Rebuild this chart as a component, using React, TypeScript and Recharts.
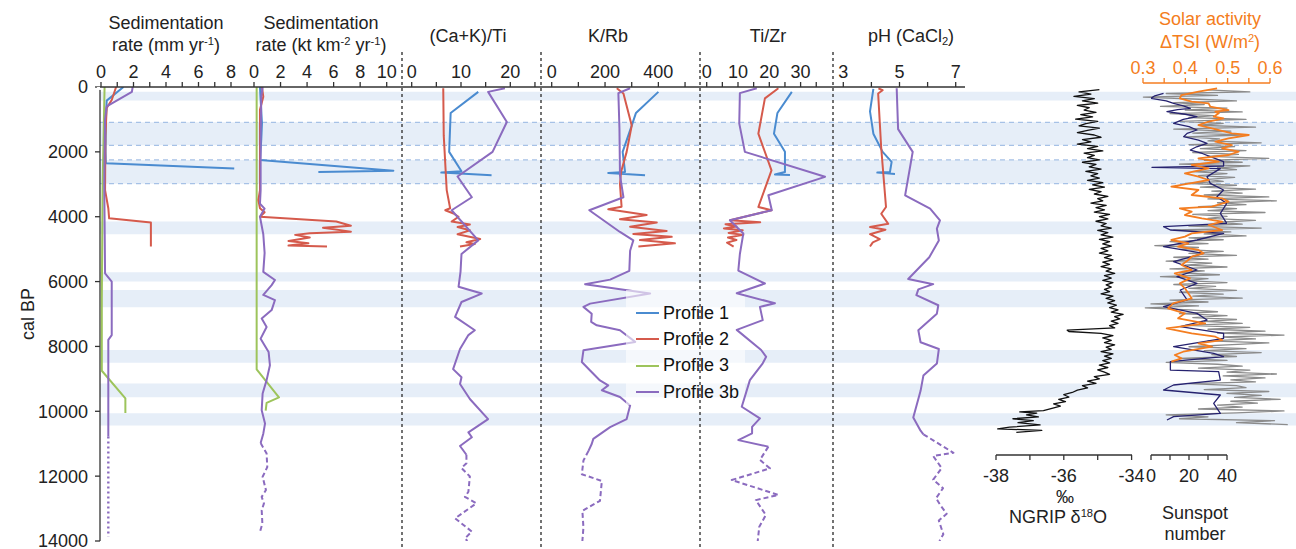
import React from 'react'
import { ComposedChart, Line, XAxis, YAxis, ReferenceArea, ReferenceLine, Legend } from 'recharts'

const FONT = '"Liberation Sans", Arial, Helvetica, sans-serif'
const INK = '#222222'
const AXIS = '#333333'
const BLUE = '#4a8bd0'
const RED = '#d55a4c'
const GREEN = '#9dc45c'
const PURPLE = '#8b6bbf'
const ORANGE = '#f47d20'
const NAVY = '#26226f'
const GREY = '#8c8c8c'
const BAND = '#e6eef8'
const BAND_LINE = '#a6c1e6'

// page geometry (px)
const W = 1296
const H = 549
const TOP = 87 // y of 0 cal BP
const BOTTOM = 541 // y of 14000 cal BP
const SHORT_BOTTOM = 455 // bottom of the NGRIP / solar strips
const AGE_MAX = 14000
const PPY = (BOTTOM - TOP) / AGE_MAX
const AXIS_H = 30

type Pt = [number, number] // [cal BP, value]

const ageTicks = [0, 2000, 4000, 6000, 8000, 10000, 12000, 14000]
const bands: Pt[] = [
  [145, 420], [1090, 1800], [2250, 2980], [4150, 4540], [5710, 6000],
  [6260, 6790], [8110, 8500], [9140, 9570], [10060, 10440],
]
const bandEdges = [1090, 1800, 2250, 2980]

// Sedimentation rate (mm yr-1)
const sedMm1: Pt[] = [[0, 1.38], [420, 0.35], [1000, 0.3], [2000, 0.28], [2350, 0.3], [2510, 8.2]]
const sedMm2: Pt[] = [[0, 0.93], [400, 0.66], [650, 0.35], [1500, 0.27], [3180, 0.25], [3740, 0.45], [4050, 0.5], [4180, 3.07], [4920, 3.07]]
const sedMm3: Pt[] = [[0, 0.22], [1000, 0.18], [3000, 0.1], [6500, 0.05], [8750, 0.05], [9600, 1.5], [10050, 1.5]]
const sedMm3b: Pt[] = [[0, 1.95], [150, 1.9], [600, 0.35], [1000, 0.25], [3000, 0.2], [5750, 0.25], [6000, 0.66], [7650, 0.66], [7800, 0.45], [10780, 0.45]]
const sedMm3bOld: Pt[] = [[10780, 0.45], [13870, 0.45]]

// Sedimentation rate (kt km-2 yr-1)
const sedKt1: Pt[] = [[0, 0.45], [400, 0.5], [1110, 0.6], [1600, 0.55], [2250, 0.45], [2580, 10.5], [2620, 4.85]]
const sedKt2: Pt[] = [[0, 0.6], [300, 0.7], [700, 0.45], [3180, 0.45], [3490, 0.33], [3740, 0.45], [3860, 0.8], [4000, 0.45], [4150, 6.2], [4280, 7.3], [4340, 5.2], [4460, 7.3], [4510, 4.2], [4560, 3.1], [4640, 4.2], [4750, 2.6], [4820, 4.1], [4890, 2.6], [4920, 5.5]]
const sedKt3: Pt[] = [[0, 0.2], [4000, 0.2], [8710, 0.2], [9570, 1.88], [9740, 0.95], [9980, 0.88]]
const sedKt3b: Pt[] = [[0, 0.65], [300, 0.55], [1500, 0.5], [3180, 0.5], [3600, 0.45], [3750, 0.8], [4000, 0.45], [4540, 0.7], [5120, 0.8], [5700, 0.7], [5950, 1.58], [6110, 1.33], [6410, 0.7], [6570, 1.58], [6880, 1.33], [7140, 0.58], [7400, 0.95], [7760, 0.5], [8170, 1.1], [8580, 1.2], [9040, 0.95], [9450, 0.65], [9970, 0.58], [10380, 0.83], [10690, 0.7], [10980, 0.5]]
const sedKt3bOld: Pt[] = [[10980, 0.5], [11300, 0.95], [11720, 1.0], [12020, 0.65], [12430, 0.9], [12640, 0.58], [12840, 0.75], [13050, 0.58], [13460, 0.63], [13720, 0.45]]

// (Ca+K)/Ti
const caTi1: Pt[] = [[150, 13.5], [800, 7.9], [2000, 7.6], [2600, 10.1], [2640, 6.0], [2720, 16.2]]
const caTi2: Pt[] = [[40, 6.4], [1500, 6.5], [3180, 7.1], [3740, 7.8], [3800, 6.8], [3900, 8.5], [4000, 9.5], [4150, 8.1], [4240, 11.8], [4320, 9.3], [4420, 11.8], [4540, 9.3], [4690, 13.9], [4790, 11.1], [4840, 12.8], [4920, 9.8]]
const caTi3b: Pt[] = [[40, 18.9], [150, 15.5], [1080, 19.3], [2000, 16.4], [2760, 9.3], [3400, 12.2], [3800, 8.1], [4730, 13.5], [5150, 10.1], [5700, 9.9], [6160, 9.5], [6370, 14.2], [6630, 10.1], [7090, 8.8], [7500, 12.8], [7650, 11.5], [8080, 9.8], [8700, 8.4], [8950, 10.1], [9160, 9.8], [9620, 11.8], [10240, 15.5], [10650, 11.5], [10800, 12.2], [11070, 9.8], [11340, 11.1]]
const caTi3bOld: Pt[] = [[11340, 11.1], [11600, 11.1], [11750, 10.1], [12010, 11.8], [12480, 11.5], [12640, 10.8], [12840, 13.1], [13300, 8.8], [13710, 12.2], [13920, 10.8], [14000, 11.3]]

// K/Rb
const kRb1: Pt[] = [[150, 400], [800, 316], [1190, 300], [2000, 266], [2620, 275], [2650, 212], [2720, 350]]
const kRb2: Pt[] = [[40, 244], [200, 269], [1190, 300], [2000, 281], [2620, 260], [3000, 256], [3690, 262], [3770, 212], [3950, 356], [4080, 256], [4180, 394], [4310, 294], [4440, 431], [4530, 306], [4620, 450], [4720, 331], [4820, 462], [4920, 325]]
const kRb3b: Pt[] = [[40, 294], [190, 250], [1280, 254], [2720, 256], [3400, 269], [3800, 141], [4470, 256], [4730, 306], [5050, 294], [5670, 291], [5940, 219], [6080, 125], [6370, 369], [6680, 144], [6780, 119], [6990, 150], [7240, 148], [7350, 169], [7500, 256], [7860, 313], [8120, 119], [8480, 113], [8740, 144], [9050, 181], [9200, 212], [9350, 188], [9560, 256], [9820, 294], [10240, 281], [10490, 219], [10850, 156], [11010, 150], [11220, 138]]
const kRb3bOld: Pt[] = [[11220, 138], [11520, 119], [11940, 113], [12150, 188], [12760, 181], [13070, 115], [13580, 119], [14000, 115]]

// Ti/Zr
const tiZr1: Pt[] = [[150, 27.2], [800, 22.6], [1440, 21.5], [2000, 25.0], [2620, 25.0], [2700, 21.8], [2710, 26.6]]
const tiZr2: Pt[] = [[40, 22.9], [350, 18.6], [1440, 16.5], [2570, 20.7], [3700, 16.5], [3800, 20.7], [4110, 7.5], [4170, 17.1], [4230, 6.0], [4300, 9.5], [4360, 5.5], [4420, 11.5], [4500, 7.0], [4560, 11.7], [4640, 6.8], [4720, 9.5], [4800, 6.5], [4920, 8.6]]
const tiZr3b: Pt[] = [[40, 16.0], [190, 10.6], [1120, 10.4], [2000, 12.2], [2770, 37.8], [3340, 19.7], [3800, 20.8], [4110, 7.4], [4520, 11.7], [5150, 10.6], [5660, 10.1], [6060, 18.6], [6360, 9.6], [6670, 21.8], [6780, 17.0], [7190, 17.9], [7490, 9.6], [8110, 17.4], [8320, 19.0], [8520, 17.9], [9040, 13.8], [9860, 11.2], [10220, 17.0], [10480, 14.5], [10680, 14.5], [10890, 10.1], [11090, 19.7]]
const tiZr3bOld: Pt[] = [[11090, 19.7], [11500, 17.0], [11760, 20.2], [12120, 8.0], [12580, 22.9], [12740, 15.7], [13200, 18.9], [13560, 16.8], [14000, 16.3]]

// pH (CaCl2)
const ph1: Pt[] = [[60, 4.07], [750, 3.95], [1440, 4.07], [2000, 4.4], [2310, 4.72], [2620, 4.66], [2640, 4.21], [2680, 4.84]]
const ph2: Pt[] = [[40, 4.25], [100, 4.4], [200, 4.24], [1890, 4.35], [3700, 4.52], [3910, 4.35], [4220, 4.6], [4320, 3.95], [4400, 4.5], [4540, 3.95], [4690, 4.3], [4790, 4.05], [4920, 3.95]]
const ph3b: Pt[] = [[40, 4.9], [1300, 4.95], [2000, 5.47], [3340, 5.2], [3750, 6.09], [4110, 6.44], [4370, 6.33], [4730, 6.4], [5250, 6.06], [5920, 5.31], [6080, 6.2], [6240, 5.67], [6420, 5.6], [6730, 6.38], [6990, 6.33], [7500, 5.67], [7870, 5.75], [8080, 6.4], [8530, 6.33], [8900, 5.85], [9370, 5.75], [10190, 5.49], [10600, 5.75], [10710, 5.85]]
const ph3bOld: Pt[] = [[10710, 5.85], [11280, 6.92], [11380, 6.2], [11750, 6.5], [12110, 6.2], [12370, 6.55], [12680, 6.3], [12890, 6.45], [13160, 6.68], [13370, 6.4], [13790, 6.56], [14000, 6.42]]

// NGRIP d18O (permil)
const ngrip: Pt[] = [
  [80, -34.95], [150, -35.55], [220, -35.2], [290, -35.7], [360, -35.1], [430, -35.45], [500, -35.0], [570, -35.6], [640, -35.25], [710, -35.4],
  [780, -35.05], [850, -35.5], [920, -35.15], [990, -35.65], [1060, -35.0], [1130, -35.35], [1200, -35.55], [1270, -34.95], [1340, -35.3], [1410, -35.6],
  [1480, -35.1], [1550, -34.9], [1620, -35.45], [1690, -35.2], [1760, -35.6], [1830, -35.0], [1900, -35.3], [1970, -34.85], [2040, -35.4], [2110, -35.1],
  [2180, -35.3], [2250, -34.95], [2320, -35.45], [2390, -35.05], [2460, -35.25], [2530, -34.9], [2600, -35.35], [2670, -35.0], [2740, -35.2], [2810, -34.95],
  [2880, -35.3], [2950, -34.85], [3020, -35.15], [3090, -34.8], [3160, -35.25], [3230, -34.9], [3300, -35.1], [3370, -34.7], [3440, -35.0], [3510, -34.85],
  [3580, -35.2], [3650, -34.75], [3720, -35.05], [3790, -34.8], [3860, -35.1], [3930, -34.65], [4000, -34.95], [4070, -34.7], [4140, -35.05], [4210, -34.75],
  [4280, -34.9], [4350, -34.6], [4420, -35.0], [4490, -34.7], [4560, -34.9], [4630, -34.55], [4700, -34.95], [4770, -34.65], [4840, -34.85], [4910, -34.6],
  [4980, -34.9], [5050, -34.7], [5120, -34.95], [5190, -34.6], [5260, -34.8], [5330, -34.55], [5400, -34.85], [5470, -34.65], [5540, -34.9], [5610, -34.6],
  [5680, -34.75], [5750, -34.5], [5820, -34.8], [5890, -34.6], [5960, -34.85], [6030, -34.55], [6100, -34.75], [6170, -34.6], [6240, -34.8], [6310, -34.65],
  [6380, -34.9], [6450, -34.55], [6520, -34.75], [6590, -34.5], [6660, -34.7], [6730, -34.45], [6800, -34.65], [6870, -34.4], [6940, -34.6], [7010, -34.25],
  [7080, -34.5], [7150, -34.35], [7220, -34.6], [7290, -34.4], [7360, -34.65], [7430, -34.5], [7500, -35.9], [7540, -35.85], [7600, -34.9], [7670, -34.55],
  [7740, -34.85], [7810, -34.6], [7880, -34.8], [7950, -34.5], [8020, -34.75], [8090, -34.6], [8160, -34.9], [8230, -34.55], [8300, -34.8], [8370, -34.6],
  [8440, -34.85], [8510, -34.65], [8580, -34.95], [8650, -34.7], [8720, -35.0], [8790, -34.8], [8860, -34.65], [8930, -35.1], [9000, -34.95], [9070, -35.3],
  [9140, -35.05], [9210, -35.45], [9280, -35.3], [9350, -35.6], [9420, -35.75], [9490, -36.0], [9560, -35.85], [9630, -36.15], [9700, -35.95], [9770, -36.3],
  [9840, -36.1], [9910, -36.35], [9980, -36.6], [10020, -37.3], [10060, -36.8], [10110, -37.1], [10170, -36.75], [10230, -37.5], [10290, -36.9], [10350, -37.35],
  [10420, -36.7], [10490, -37.6], [10540, -37.95], [10590, -36.65], [10650, -37.4],
]

// Sunspot number, raw (grey) and smoothed (navy)
const sunspotRaw: Pt[] = [
  [90, 30], [150, 52], [200, 8], [260, 35], [310, -4], [370, 22], [430, 45], [480, 12], [540, 28], [600, 5],
  [650, 40], [710, 18], [770, 48], [820, 10], [880, 33], [940, 20], [1000, 50], [1060, 15], [1120, 38], [1180, 25],
  [1240, 55], [1300, 12], [1360, 42], [1420, 22], [1480, 48], [1540, 18], [1600, 36], [1660, 30], [1720, 58], [1780, 20],
  [1840, 44], [1900, 26], [1960, 50], [2020, 22], [2080, 46], [2140, 30], [2200, 62], [2260, 28], [2320, 48], [2380, 15],
  [2430, 52], [2490, 35], [2550, 45], [2610, 22], [2670, 40], [2730, 25], [2790, 44], [2850, 30], [2910, 38], [2970, 18],
  [3030, 45], [3090, 26], [3150, 55], [3210, 32], [3270, 48], [3330, 28], [3390, 62], [3450, 30], [3510, 66], [3570, 35],
  [3630, 50], [3690, 25], [3750, 45], [3810, 30], [3870, 60], [3930, 22], [3990, 40], [4050, 30], [4110, 55], [4170, 35],
  [4230, 48], [4290, 20], [4350, 58], [4410, 12], [4470, 42], [4530, 28], [4590, 50], [4650, 20], [4710, 38], [4770, 10],
  [4830, 30], [4890, 2], [4950, 25], [5010, 15], [5070, 38], [5130, 20], [5190, 45], [5250, 12], [5310, 30], [5370, 8],
  [5430, 32], [5490, 18], [5550, 40], [5610, 10], [5670, 28], [5730, 15], [5790, 36], [5850, 5], [5910, 30], [5970, 18],
  [6030, 40], [6090, 12], [6150, 34], [6210, 20], [6270, 45], [6330, 15], [6390, 38], [6450, 22], [6510, 48], [6570, 10],
  [6630, 30], [6690, 0], [6750, 25], [6810, -3], [6870, 20], [6930, 35], [6990, 15], [7050, 40], [7110, 22], [7170, 45],
  [7230, 28], [7290, 48], [7350, 18], [7410, 52], [7470, 30], [7530, 60], [7590, 35], [7650, 70], [7710, 38], [7770, 55],
  [7830, 30], [7890, 62], [7950, 40], [8010, 20], [8070, 50], [8130, 28], [8190, 58], [8250, 32], [8310, 45], [8370, 15],
  [8430, 40], [8490, 8], [8550, 35], [8610, 48], [8670, 25], [8730, 52], [8790, 40], [8850, 66], [8910, 38], [8970, 60],
  [9030, 42], [9090, 55], [9150, 20], [9210, 45], [9270, 50], [9330, 28], [9390, 62], [9450, 40], [9510, 58], [9570, 44],
  [9630, 68], [9690, 42], [9750, 56], [9810, 35], [9870, 48], [9930, 25], [9990, 70], [10050, 45], [10110, 8], [10170, 30],
  [10230, 15], [10290, 65], [10350, 45], [10410, 72],
]
const sunspotSmooth: Pt[] = [
  [195, 6.6], [270, 2], [350, 0], [430, 8], [504, 11.9], [580, 17], [658, 20.7], [700, 14], [761, 8.4], [840, 18], [915, 24.2],
  [1000, 17], [1120, 11.9], [1220, 20], [1326, 24.2], [1430, 19], [1532, 17.2], [1640, 25], [1737, 29.5], [1843, 24], [1943, 20.7],
  [2050, 27], [2148, 31.2], [2303, 38.2], [2436, 38.2], [2477, 0.5], [2518, 36.5], [2640, 33], [2765, 29.5], [2971, 31.2], [3176, 38.2],
  [3382, 34.7], [3588, 39.9], [3896, 36.5], [4205, 39.9], [4307, 6.6], [4410, 10.2], [4513, 38.2], [4718, 24.2], [4924, 6.6], [5129, 27.7],
  [5386, 11.9], [5643, 24.2], [5849, 13.7], [6055, 24.2], [6260, 15.4], [6568, 19.0], [6774, 6.6], [6980, 24.2], [7186, 29.5], [7391, 15.4],
  [7597, 38.2], [7751, 38.2], [8008, 11.9], [8214, 33.0], [8317, 38.2], [8471, 10.2], [8728, 10.2], [8779, 35.6], [9036, 36.5], [9190, 11.9],
  [9344, 6.6], [9498, 36.5], [9755, 33.0], [10064, 36.5], [10167, 11.9], [10270, 8.4],
]

// Solar activity, delta TSI (W/m2)
const tsi: Pt[] = [
  [41, 0.475], [144, 0.431], [247, 0.391], [350, 0.387], [452, 0.415], [504, 0.455], [607, 0.459], [710, 0.502], [761, 0.471], [812, 0.479],
  [915, 0.467], [966, 0.49], [1069, 0.455], [1172, 0.431], [1275, 0.463], [1429, 0.51], [1480, 0.55], [1583, 0.502], [1686, 0.471], [1789, 0.51],
  [1892, 0.487], [1994, 0.526], [2097, 0.502], [2200, 0.431], [2303, 0.479], [2405, 0.415], [2508, 0.455], [2663, 0.399], [2765, 0.431], [2868, 0.455],
  [2971, 0.411], [3073, 0.367], [3176, 0.431], [3330, 0.415], [3433, 0.487], [3536, 0.502], [3690, 0.463], [3742, 0.387], [3844, 0.415], [3947, 0.399],
  [4050, 0.439], [4153, 0.487], [4256, 0.455], [4410, 0.487], [4513, 0.415], [4615, 0.399], [4718, 0.367], [4821, 0.407], [4924, 0.383], [5026, 0.431],
  [5129, 0.443], [5232, 0.415], [5335, 0.407], [5489, 0.391], [5643, 0.415], [5746, 0.375], [5900, 0.411], [6055, 0.387], [6209, 0.399], [6363, 0.407],
  [6517, 0.415], [6671, 0.371], [6825, 0.359], [6980, 0.399], [7134, 0.383], [7288, 0.447], [7442, 0.356], [7597, 0.415], [7700, 0.471], [7803, 0.487],
  [7905, 0.431], [8008, 0.463], [8163, 0.395], [8265, 0.375], [8368, 0.391], [8471, 0.367],
]

const legendItems = [
  { label: 'Profile 1', color: BLUE },
  { label: 'Profile 2', color: RED },
  { label: 'Profile 3', color: GREEN },
  { label: 'Profile 3b', color: PURPLE },
]

const pts = (a: Pt[]) => a.map(([age, v]) => ({ age, v }))

interface Series {
  data: Pt[]
  color: string
  dash?: string
  width?: number
}

interface StripProps {
  left: number
  width: number
  x0: number // a value on the axis
  px0: number // page x where x0 sits
  ppu: number // px per unit
  plotTop?: number
  plotBottom?: number
  orient?: 'top' | 'bottom' | 'none'
  ticks?: number[]
  labels?: number[]
  color?: string
  separator?: boolean
  series: Series[]
  children?: React.ReactNode
}

// In the vertical layout the number y axis already runs top -> bottom
function Strip(p: StripProps) {
  const plotTop = p.plotTop ?? TOP
  const plotBottom = p.plotBottom ?? BOTTOM
  const orient = p.orient ?? 'top'
  const yDomain: [number, number] = [(plotTop - TOP) / PPY, (plotBottom - TOP) / PPY]
  const xDomain: [number, number] = [
    p.x0 - (p.px0 - p.left) / p.ppu,
    p.x0 + (p.left + p.width - p.px0) / p.ppu,
  ]
  const margin = {
    left: 0,
    right: 0,
    top: orient === 'top' ? plotTop - AXIS_H : plotTop,
    bottom: orient === 'bottom' ? H - plotBottom - AXIS_H : H - plotBottom,
  }
  const color = p.color ?? AXIS
  const labels = p.labels ?? p.ticks ?? []
  return (
    <div style={{ position: 'absolute', left: p.left, top: 0, width: p.width, height: H }}>
      <ComposedChart layout="vertical" width={p.width} height={H} margin={margin}>
        <XAxis
          type="number"
          domain={xDomain}
          allowDataOverflow
          hide={orient === 'none'}
          orientation={orient === 'bottom' ? 'bottom' : 'top'}
          height={AXIS_H}
          ticks={p.ticks}
          interval={0}
          tickSize={5}
          tickMargin={orient === 'bottom' ? 9 : 4}
          axisLine={{ stroke: color, strokeWidth: 1.3 }}
          tickLine={{ stroke: color, strokeWidth: 1.3 }}
          tick={{ fontSize: 18, fill: color === AXIS ? INK : color }}
          tickFormatter={(v: number) => (labels.some((l) => Math.abs(l - v) < 1e-9) ? String(v) : '')}
        />
        <YAxis type="number" dataKey="age" domain={yDomain} allowDataOverflow hide />
        {p.separator && (
          <ReferenceLine
            segment={[
              { x: xDomain[0], y: (52 - TOP) / PPY },
              { x: xDomain[0], y: (H - TOP) / PPY },
            ]}
            ifOverflow="visible"
            stroke="#444"
            strokeWidth={1.5}
            strokeDasharray="3 3"
          />
        )}
        {p.series.map((s, i) => (
          <Line
            key={i}
            data={pts(s.data)}
            dataKey="v"
            type="linear"
            stroke={s.color}
            strokeWidth={s.width ?? 2}
            strokeDasharray={s.dash}
            strokeLinejoin="round"
            dot={false}
            activeDot={false}
            isAnimationActive={false}
          />
        ))}
        {p.children}
      </ComposedChart>
    </div>
  )
}

function Backdrop() {
  const mid = (TOP + BOTTOM) / 2
  return (
    <div style={{ position: 'absolute', left: 0, top: 0, width: W, height: H }}>
      <ComposedChart layout="vertical" width={W} height={H} margin={{ top: TOP, bottom: H - BOTTOM, left: 0, right: 0 }}>
        <XAxis type="number" domain={[0, 1]} hide />
        <YAxis
          type="number"
          dataKey="age"
          domain={[0, AGE_MAX]}
          allowDataOverflow
          width={100}
          ticks={ageTicks}
          interval={0}
          tickSize={5}
          tickMargin={7}
          axisLine={{ stroke: AXIS, strokeWidth: 1.3 }}
          tickLine={{ stroke: AXIS, strokeWidth: 1.3 }}
          tick={{ fontSize: 18, fill: INK }}
          label={() => (
            <text x={28} y={mid} transform={`rotate(-90 28 ${mid})`} textAnchor="middle" dominantBaseline="central" fontSize={18} fill={INK}>
              cal BP
            </text>
          )}
        />
        {bands.map(([a, b]) => (
          <ReferenceArea key={a} y1={a} y2={b} fill={BAND} fillOpacity={1} stroke="none" />
        ))}
        {bandEdges.map((a) => (
          <ReferenceLine key={a} y={a} stroke={BAND_LINE} strokeWidth={1.2} strokeDasharray="5 4" />
        ))}
        <Line data={[{ age: 0, v: 0 }]} dataKey="v" stroke="none" dot={false} isAnimationActive={false} />
      </ComposedChart>
    </div>
  )
}

function ProfileLegend() {
  return (
    <div style={{ background: 'rgba(255,255,255,0.6)', padding: '10px 0 0 10px', fontSize: 18, color: '#111', fontFamily: FONT }}>
      {legendItems.map((item) => (
        <div key={item.label} style={{ display: 'flex', alignItems: 'center', height: 26.3, whiteSpace: 'nowrap' }}>
          <span style={{ display: 'inline-block', width: 23, borderTop: `2.5px solid ${item.color}`, marginRight: 4 }} />
          {item.label}
        </div>
      ))}
    </div>
  )
}

const SUP: React.CSSProperties = { fontSize: '0.62em', verticalAlign: '0.5em', lineHeight: 0 }
const SUB: React.CSSProperties = { fontSize: '0.62em', verticalAlign: '-0.3em', lineHeight: 0 }

function Title({ cx, top, lh = 18, color = INK, children }: { cx: number; top: number; lh?: number; color?: string; children: React.ReactNode }) {
  return (
    <div style={{ position: 'absolute', left: cx - 150, top, width: 300, textAlign: 'center', fontSize: 18, lineHeight: `${lh}px`, color, whiteSpace: 'nowrap' }}>
      {children}
    </div>
  )
}

const DOTS = '2 3'
const DASH = '5 3'

export default function App() {
  return (
    <div style={{ position: 'absolute', left: 0, top: 0, width: W, height: H, background: '#fff', fontFamily: FONT, color: INK, overflow: 'hidden' }}>
      <style>{'.recharts-surface{overflow:visible}'}</style>
      <Backdrop />

      <Strip left={100} width={154} x0={0} px0={101} ppu={16.25} ticks={[0, 1, 2, 3, 4, 5, 6, 7, 8]} labels={[0, 2, 4, 6, 8]}
        series={[
          { data: sedMm3, color: GREEN },
          { data: sedMm1, color: BLUE },
          { data: sedMm2, color: RED },
          { data: sedMm3b, color: PURPLE },
          { data: sedMm3bOld, color: PURPLE, dash: DOTS, width: 2.4 },
        ]} />
      <Strip left={254} width={148} x0={0} px0={254} ppu={13.27} ticks={[0, 2, 4, 6, 8, 10]}
        series={[
          { data: sedKt3, color: GREEN },
          { data: sedKt1, color: BLUE },
          { data: sedKt2, color: RED },
          { data: sedKt3b, color: PURPLE },
          { data: sedKt3bOld, color: PURPLE, dash: DASH },
        ]} />
      <Strip left={402} width={139} x0={0} px0={411.7} ppu={4.93} ticks={[0, 5, 10, 15, 20, 25]} labels={[0, 10, 20]} separator
        series={[
          { data: caTi1, color: BLUE },
          { data: caTi2, color: RED },
          { data: caTi3b, color: PURPLE },
          { data: caTi3bOld, color: PURPLE, dash: DASH },
        ]} />
      <Strip left={541} width={159} x0={0} px0={551.7} ppu={0.2667} ticks={[0, 100, 200, 300, 400, 500]} labels={[0, 200, 400]} separator
        series={[
          { data: kRb1, color: BLUE },
          { data: kRb2, color: RED },
          { data: kRb3b, color: PURPLE },
          { data: kRb3bOld, color: PURPLE, dash: DASH },
        ]}>
        <Legend layout="vertical" align="center" verticalAlign="middle" wrapperStyle={{ left: 626 - 541, top: 290, width: 119 }} content={() => <ProfileLegend />} />
      </Strip>
      <Strip left={700} width={133} x0={0} px0={706.7} ppu={3.13} ticks={[0, 5, 10, 15, 20, 25, 30, 35]} labels={[0, 10, 20, 30]} separator
        series={[
          { data: tiZr1, color: BLUE },
          { data: tiZr2, color: RED },
          { data: tiZr3b, color: PURPLE },
          { data: tiZr3bOld, color: PURPLE, dash: DASH },
        ]} />
      <Strip left={833} width={132} x0={3} px0={843.3} ppu={28.1} ticks={[3, 4, 5, 6, 7]} labels={[3, 5, 7]} separator
        series={[
          { data: ph1, color: BLUE },
          { data: ph2, color: RED },
          { data: ph3b, color: PURPLE },
          { data: ph3bOld, color: PURPLE, dash: DASH },
        ]} />

      <Strip left={996} width={136} x0={-38} px0={996} ppu={33.9} plotBottom={SHORT_BOTTOM} orient="bottom"
        ticks={[-38, -37, -36, -35, -34]} labels={[-38, -36, -34]}
        series={[{ data: ngrip, color: '#111', width: 1.3 }]} />
      <Strip left={1130} width={166} x0={0} px0={1151} ppu={1.9} plotBottom={SHORT_BOTTOM} orient="none"
        series={[{ data: sunspotRaw, color: GREY, width: 1.3 }]} />
      <Strip left={1151} width={76} x0={0} px0={1151} ppu={1.9} plotBottom={SHORT_BOTTOM} orient="bottom"
        ticks={[0, 10, 20, 30, 40]} labels={[0, 20, 40]}
        series={[{ data: sunspotSmooth, color: NAVY, width: 1.3 }]} />
      <Strip left={1143} width={127} x0={0.3} px0={1143} ppu={423.3} plotTop={83} plotBottom={SHORT_BOTTOM} color={ORANGE}
        ticks={[0.3, 0.35, 0.4, 0.45, 0.5, 0.55, 0.6]} labels={[0.3, 0.4, 0.5, 0.6]}
        series={[{ data: tsi, color: ORANGE, width: 1.8 }]} />

      <Title cx={166} top={11.5} lh={22.5}>Sedimentation<br />rate (mm yr<span style={SUP}>-1</span>)</Title>
      <Title cx={321} top={11.5} lh={22.5}>Sedimentation<br />rate (kt km<span style={SUP}>-2</span> yr<span style={SUP}>-1</span>)</Title>
      <Title cx={468} top={27}>(Ca+K)/Ti</Title>
      <Title cx={608} top={27}>K/Rb</Title>
      <Title cx={768} top={27}>Ti/Zr</Title>
      <Title cx={911} top={27}>pH (CaCl<span style={SUB}>2</span>)</Title>
      <Title cx={1210} top={8} lh={23} color={ORANGE}>Solar activity<br />ΔTSI (W/m<span style={SUP}>2</span>)</Title>
      <Title cx={1065} top={488}>‰</Title>
      <Title cx={1058} top={508}>NGRIP δ<span style={SUP}>18</span>O</Title>
      <Title cx={1195} top={503} lh={21}>Sunspot<br />number</Title>
    </div>
  )
}
